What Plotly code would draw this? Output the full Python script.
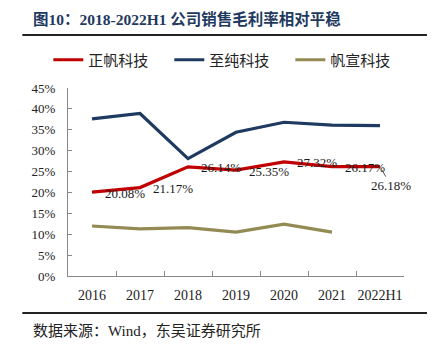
import plotly.graph_objects as go

categories = ["2016", "2017", "2018", "2019", "2020", "2021", "2022H1"]
zhengfan = [20.08, 21.17, 26.14, 25.35, 27.32, 26.17, 26.18]
zhichun = [37.6, 38.9, 28.1, 34.4, 36.8, 36.1, 36.0]
fanxuan = [11.97, 11.3, 11.6, 10.5, 12.4, 10.5, None]
zf_labels = ["20.08%", "21.17%", "26.14%", "25.35%", "27.32%", "26.17%", "26.18%"]
y_ticks = [0, 5, 10, 15, 20, 25, 30, 35, 40, 45]

W, H = 438, 354
L, R, T, B = 67.7, 404.0, 88.0, 276.0

def px(x):
    return (x - L) / (R - L)

def py(y):
    return (B - y) / (B - T)

serif = "Liberation Serif, Noto Sans CJK SC"
cjk = "Noto Sans CJK SC"

fig = go.Figure()
fig.add_trace(go.Scatter(x=categories, y=zhengfan, mode="lines", name="正帆科技",
                         line=dict(color="#C00000", width=3.2)))
fig.add_trace(go.Scatter(x=categories, y=zhichun, mode="lines", name="至纯科技",
                         line=dict(color="#1F3A60", width=3.2)))
fig.add_trace(go.Scatter(x=categories, y=fanxuan, mode="lines", name="帆宣科技",
                         line=dict(color="#948A54", width=3.2)))

annotations = []
n = len(categories)
for i, (v, t) in enumerate(zip(zhengfan, zf_labels)):
    if i < n - 1:
        annotations.append(dict(x=i, y=v, text=t, showarrow=False, xshift=33, yshift=-1,
                                font=dict(family=serif, size=13, color="#1a1a1a")))
    else:
        annotations.append(dict(x=i, y=v, text=t, showarrow=True, ax=11, ay=19,
                                arrowhead=0, arrowwidth=0.8, arrowcolor="#333333", standoff=4,
                                font=dict(family=serif, size=13, color="#1a1a1a")))

annotations.append(dict(xref="paper", yref="paper", x=px(31), y=py(19), xanchor="left",
                        yanchor="middle", showarrow=False,
                        text="<b>图10：2018-2022H1 公司销售毛利率相对平稳</b>",
                        font=dict(family=serif, size=15.5, color="#1F3A5F")))
annotations.append(dict(xref="paper", yref="paper", x=px(31), y=py(331), xanchor="left",
                        yanchor="middle", showarrow=False,
                        text="数据来源：Wind，东吴证券研究所",
                        font=dict(family="Liberation Serif, Noto Sans CJK SC", size=15, color="#222222")))

shapes = [
    dict(type="line", xref="paper", yref="paper", x0=px(22), x1=px(427), y0=py(35), y1=py(35),
         line=dict(color="#222222", width=2)),
    dict(type="line", xref="paper", yref="paper", x0=px(22), x1=px(427), y0=py(313), y1=py(313),
         line=dict(color="#222222", width=2)),
]

fig.update_layout(
    width=W, height=H,
    margin=dict(l=L, r=W - R, t=T, b=H - B, pad=0),
    paper_bgcolor="white", plot_bgcolor="white",
    showlegend=True,
    legend=dict(orientation="h", x=px(48), y=py(60), xanchor="left", yanchor="middle",
                font=dict(family=cjk, size=15, color="#222222"),
                itemwidth=30, entrywidth=76, entrywidthmode="pixels",
                bgcolor="rgba(0,0,0,0)"),
    annotations=annotations,
    shapes=shapes,
)
fig.update_xaxes(type="category", showgrid=False, showline=True, linecolor="#888888",
                 linewidth=1, ticks="inside", ticklen=5, tickcolor="#888888",
                 tickson="boundaries", tickangle=0,
                 tickfont=dict(family=serif, size=14, color="#222222"),
                 ticklabelstandoff=6, range=[-0.5, 6.5], zeroline=False)
fig.update_yaxes(range=[0, 45], tickvals=y_ticks, ticktext=[f"{v}%" for v in y_ticks],
                 showgrid=False, showline=True, linecolor="#888888", linewidth=1,
                 ticks="inside", ticklen=4, tickcolor="#888888", zeroline=False,
                 tickfont=dict(family=serif, size=13, color="#222222"), ticklabelstandoff=9)

fig.write_html("out.html")
